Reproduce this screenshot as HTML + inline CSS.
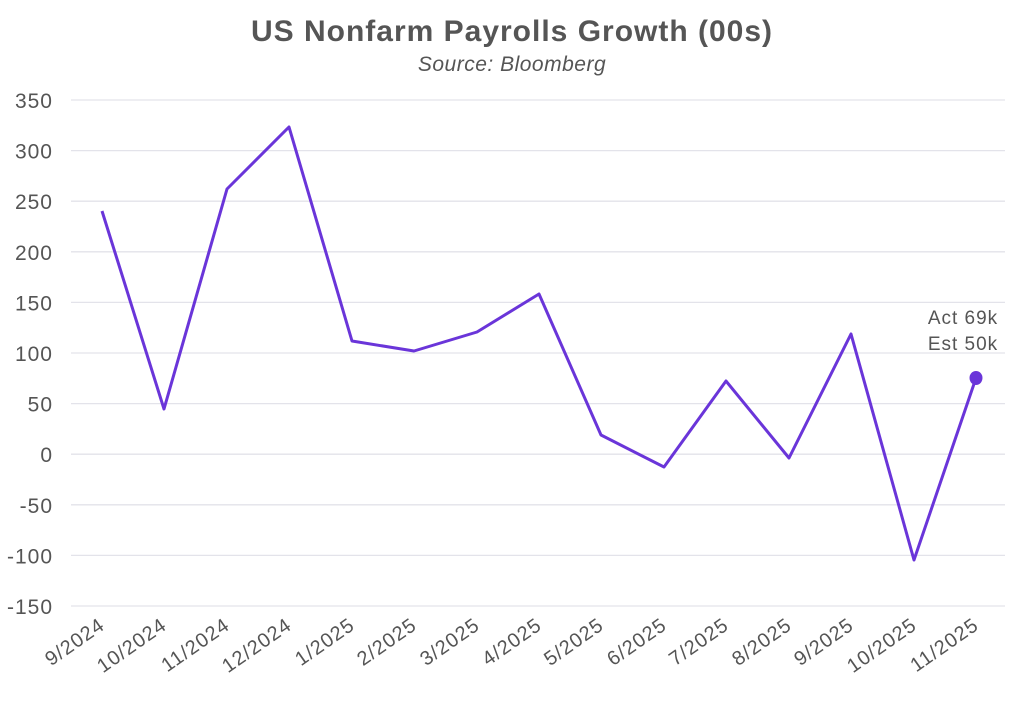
<!DOCTYPE html>
<html><head><style>body{margin:0;background:#fff}</style></head><body>
<svg width="1024" height="697" xmlns="http://www.w3.org/2000/svg" font-family="Liberation Sans, sans-serif">
<rect width="1024" height="697" fill="#fff"/>
<text x="512" y="41" text-anchor="middle" font-size="30" font-weight="bold" fill="#555" letter-spacing="1">US Nonfarm Payrolls Growth (00s)</text>
<text x="512" y="71" text-anchor="middle" font-size="21" font-style="italic" fill="#555" letter-spacing="0.5">Source: Bloomberg</text>
<g stroke="#e3e3ea" stroke-width="1.3">
<line x1="71" x2="1005" y1="100" y2="100"/><line x1="71" x2="1005" y1="150.6" y2="150.6"/>
<line x1="71" x2="1005" y1="201.2" y2="201.2"/><line x1="71" x2="1005" y1="251.8" y2="251.8"/>
<line x1="71" x2="1005" y1="302.4" y2="302.4"/><line x1="71" x2="1005" y1="353" y2="353"/>
<line x1="71" x2="1005" y1="403.6" y2="403.6"/><line x1="71" x2="1005" y1="454.2" y2="454.2"/>
<line x1="71" x2="1005" y1="504.8" y2="504.8"/><line x1="71" x2="1005" y1="555.4" y2="555.4"/>
<line x1="71" x2="1005" y1="606" y2="606"/>
</g>
<g font-size="21" fill="#555" text-anchor="end" letter-spacing="1">
<text x="53" y="108">350</text><text x="53" y="158.6">300</text><text x="53" y="209.2">250</text>
<text x="53" y="259.8">200</text><text x="53" y="310.4">150</text><text x="53" y="361">100</text>
<text x="53" y="411.6">50</text><text x="53" y="462.2">0</text><text x="53" y="512.8">-50</text>
<text x="53" y="563.4">-100</text><text x="53" y="614">-150</text>
</g>
<g font-size="20" fill="#555" text-anchor="end" letter-spacing="1">
<text transform="translate(106,628) rotate(-35)">9/2024</text>
<text transform="translate(168,628) rotate(-35)">10/2024</text>
<text transform="translate(231,628) rotate(-35)">11/2024</text>
<text transform="translate(293,628) rotate(-35)">12/2024</text>
<text transform="translate(356,628) rotate(-35)">1/2025</text>
<text transform="translate(418,628) rotate(-35)">2/2025</text>
<text transform="translate(481,628) rotate(-35)">3/2025</text>
<text transform="translate(543,628) rotate(-35)">4/2025</text>
<text transform="translate(605,628) rotate(-35)">5/2025</text>
<text transform="translate(668,628) rotate(-35)">6/2025</text>
<text transform="translate(730,628) rotate(-35)">7/2025</text>
<text transform="translate(793,628) rotate(-35)">8/2025</text>
<text transform="translate(855,628) rotate(-35)">9/2025</text>
<text transform="translate(918,628) rotate(-35)">10/2025</text>
<text transform="translate(980,628) rotate(-35)">11/2025</text>
</g>
<polyline fill="none" stroke="#6a35d9" stroke-width="3" stroke-linejoin="round" points="102,211 164,409 227,189 289,127 352,341 414,351 477,332 539,294 601,435 664,467 726,381 789,458 851,334 914,560 976,378"/>
<ellipse cx="976" cy="378" rx="6.5" ry="7" fill="#6a35d9"/>
<g font-size="19" fill="#555" text-anchor="middle" letter-spacing="1">
<text x="963" y="324">Act 69k</text><text x="963" y="350">Est 50k</text>
</g>
</svg>
</body></html>
